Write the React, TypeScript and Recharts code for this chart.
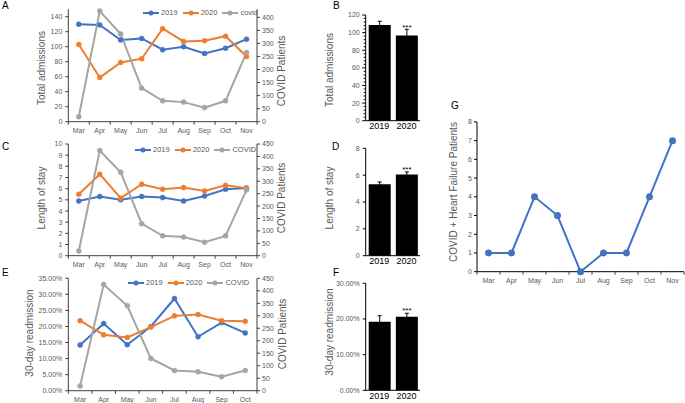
import React from "react";
import {
  ComposedChart, LineChart, Line, BarChart, Bar, XAxis, YAxis,
  Legend, ErrorBar, LabelList,
} from "recharts";

const FONT = '"Liberation Sans", Arial, sans-serif';
const BLUE = "#4472C4";
const ORANGE = "#ED7D31";
const GRAY = "#A5A5A5";
const TXT = "#595959";
const AXIS = "#3f3f3f";

// monthly series (panels A, C, E, G)
const MONTHS = ["Mar", "Apr", "May", "Jun", "Jul", "Aug", "Sep", "Oct", "Nov"];
const COVID_PATIENTS = [19, 424, 336, 129, 80, 75, 54, 80, 265];
const ADMISSIONS_2019 = [130, 129, 109, 111, 96, 100, 91, 98, 110];
const ADMISSIONS_2020 = [103, 59, 79, 84, 124, 107, 108, 114, 87];
const STAY_2019 = [4.9, 5.3, 5.0, 5.3, 5.2, 4.9, 5.35, 5.95, 6.05];
const STAY_2020 = [5.5, 7.3, 5.15, 6.4, 5.95, 6.1, 5.8, 6.3, 6.05];
const READMIT_MONTHS = ["Mar", "Apr", "May", "Jun", "Jul", "Aug", "Sep", "Oct"];
const READMIT_2019 = [14.2, 20.9, 14.3, 20.0, 28.7, 16.8, 21.2, 18.0];
const READMIT_2020 = [21.8, 17.4, 16.6, 19.8, 23.3, 23.7, 21.8, 21.6];
const READMIT_COVID = [19, 425, 340, 129, 81, 76, 56, 81];
const HF_PATIENTS = [1, 1, 4, 3, 0, 1, 1, 4, 7];

// yearly means (panels B, D, F)
const YEARS = ["2019", "2020"];
const SIGNIF = ["", "***"];
const ADMIT_MEAN = [108.7, 96.6];
const ADMIT_SEM = [4.2, 7.2];
const STAY_MEAN = [5.32, 6.04];
const STAY_SEM = [0.17, 0.2];
const READMIT_MEAN = [19.25, 20.65];
const READMIT_SEM = [1.65, 0.95];

const range = (a: number, b: number, s: number) => {
  const out: number[] = [];
  for (let v = a; v <= b + 1e-9; v += s) out.push(v);
  return out;
};

// category label + tick marks between categories (Excel style)
function CatTick(props: any) {
  const { x, y, payload, index, half, last, gap, size } = props;
  const axisY = y - gap;
  return (
    <g>
      <line x1={x - half} x2={x - half} y1={axisY} y2={axisY + 3} stroke={AXIS} />
      {index === last && <line x1={x + half} x2={x + half} y1={axisY} y2={axisY + 3} stroke={AXIS} />}
      <text x={x} y={y} dy="0.71em" textAnchor="middle" fontSize={size} fill={TXT} fontFamily={FONT}>
        {payload.value}
      </text>
    </g>
  );
}

function MinorTick(props: any) {
  const { x, y, payload } = props;
  const axisX = x + 6;
  const major = payload.value % 20 === 0;
  return (
    <g>
      <line x1={axisX} x2={axisX - (major ? 3.5 : 2)} y1={y} y2={y} stroke="#000" />
      {major && (
        <text x={x} y={y} dy="0.355em" textAnchor="end" fontSize={7} fill={TXT} fontFamily={FONT}>
          {payload.value}
        </text>
      )}
    </g>
  );
}

function LegendRow(props: any) {
  const items = props.payload || [];
  return (
    <div style={{ display: "flex", alignItems: "center", whiteSpace: "nowrap", fontFamily: FONT, fontSize: 7.5, color: TXT, lineHeight: "10px" }}>
      {items.map((it: any, i: number) => (
        <span key={i} style={{ display: "inline-flex", alignItems: "center", marginLeft: i ? 5 : 0 }}>
          <svg width={16} height={6} style={{ display: "block" }}>
            <line x1={0} x2={16} y1={3} y2={3} stroke={it.color} strokeWidth={2} />
            <circle cx={8} cy={3} r={2.5} fill={it.color} />
          </svg>
          <span style={{ marginLeft: 2 }}>{it.value}</span>
        </span>
      ))}
    </div>
  );
}

const PLOT_L = 68.3;
const PLOT_R = 257;
const LINE_W = 300;

type LineProps = {
  top: number; height: number; plotTop: number; plotBottom: number;
  months: string[]; s2019: number[]; s2020: number[]; covid: number[];
  covidName: string;
  leftDomain: [number, number]; leftTicks: number[]; leftFmt?: (v: number) => string;
  rightDomain: [number, number];
  legendLeft: number; legendTop: number;
};

function LinePanel(p: LineProps) {
  const data = p.months.map((m, i) => ({ month: m, y2019: p.s2019[i], y2020: p.s2020[i], covid: p.covid[i] }));
  const half = (PLOT_R - PLOT_L) / (2 * p.months.length);
  const tickStyle = { fontSize: 7, fill: TXT, fontFamily: FONT };
  const dot = (c: string) => ({ r: 2.5, fill: c, stroke: c, strokeWidth: 0.5 });
  return (
    <div style={{ position: "absolute", left: 0, top: p.top }}>
      <ComposedChart width={LINE_W} height={p.height} data={data}
        margin={{ top: p.plotTop - p.top, right: 0, left: 0, bottom: 0 }}>
        <XAxis dataKey="month" scale="band" height={p.top + p.height - p.plotBottom} interval={0}
          tickLine={false} tickSize={3} tickMargin={3} axisLine={{ stroke: AXIS }}
          tick={(t: any) => <CatTick {...t} half={half} last={p.months.length - 1} gap={6} size={7} />} />
        <YAxis yAxisId="left" width={PLOT_L} domain={p.leftDomain} ticks={p.leftTicks} interval={0}
          tickFormatter={p.leftFmt} tick={tickStyle} tickSize={3} tickMargin={3}
          axisLine={{ stroke: AXIS }} tickLine={{ stroke: AXIS }} />
        <YAxis yAxisId="right" orientation="right" width={LINE_W - PLOT_R} domain={p.rightDomain} interval={0}
          ticks={range(0, 450, 50).filter(v => v <= p.rightDomain[1])} tick={tickStyle} tickSize={3} tickMargin={2}
          axisLine={{ stroke: AXIS }} tickLine={{ stroke: AXIS }} />
        <Legend layout="horizontal" verticalAlign="middle" align="center" content={<LegendRow />}
          wrapperStyle={{ left: p.legendLeft, top: p.legendTop, width: "auto" }} />
        <Line yAxisId="left" dataKey="y2019" name="2019" stroke={BLUE} strokeWidth={2} dot={dot(BLUE)} isAnimationActive={false} />
        <Line yAxisId="left" dataKey="y2020" name="2020" stroke={ORANGE} strokeWidth={2} dot={dot(ORANGE)} isAnimationActive={false} />
        <Line yAxisId="right" dataKey="covid" name={p.covidName} stroke={GRAY} strokeWidth={2} dot={dot(GRAY)} isAnimationActive={false} />
      </ComposedChart>
    </div>
  );
}

type BarProps = {
  top: number; height: number; plotTop: number; plotBottom: number;
  means: number[]; sems: number[]; domain: [number, number]; ticks: number[];
  fmt?: (v: number) => string; minor?: boolean; sigOffset: number;
};

function BarPanel(p: BarProps) {
  const data = YEARS.map((y, i) => ({ year: y, mean: p.means[i], sem: p.sems[i], sig: SIGNIF[i] }));
  return (
    <div style={{ position: "absolute", left: 300, top: p.top }}>
      <BarChart width={130} height={p.height} data={data}
        margin={{ top: p.plotTop - p.top, right: 10, left: 0, bottom: 0 }}>
        <XAxis dataKey="year" height={p.top + p.height - p.plotBottom} tickLine={false} tickSize={0} tickMargin={2}
          axisLine={{ stroke: "#000" }} tick={{ fontSize: 9, fill: "#000", fontFamily: FONT }} />
        <YAxis width={65.7} domain={p.domain} ticks={p.ticks} tickFormatter={p.fmt} interval={0}
          tickSize={3} tickMargin={3} axisLine={{ stroke: "#000" }}
          tickLine={p.minor ? false : { stroke: "#000" }}
          tick={p.minor ? (t: any) => <MinorTick {...t} /> : { fontSize: 7, fill: TXT, fontFamily: FONT }} />
        <Bar dataKey="mean" fill="#000" barSize={22} isAnimationActive={false}>
          <ErrorBar dataKey="sem" direction="y" width={2} stroke="#000" strokeWidth={1} />
          <LabelList dataKey="sig" position="top" offset={p.sigOffset}
            style={{ fontSize: 8, fill: "#000", fontFamily: FONT }} />
        </Bar>
      </BarChart>
    </div>
  );
}

function HeartFailurePanel() {
  const data = MONTHS.map((m, i) => ({ month: m, n: HF_PATIENTS[i] }));
  const half = (684 - 477) / (2 * MONTHS.length);
  return (
    <div style={{ position: "absolute", left: 440, top: 100 }}>
      <LineChart width={245} height={190} data={data} margin={{ top: 21.9, right: 1, left: 0, bottom: 0 }}>
        <XAxis dataKey="month" scale="band" height={18.3} interval={0} tickLine={false} tickSize={3} tickMargin={3}
          axisLine={{ stroke: "#000" }}
          tick={(t: any) => <CatTick {...t} half={half} last={MONTHS.length - 1} gap={6} size={7} />} />
        <YAxis width={37} domain={[0, 8]} ticks={range(0, 8, 1)} interval={0} tickSize={3} tickMargin={2}
          axisLine={{ stroke: "#000" }} tickLine={{ stroke: "#000" }}
          tick={{ fontSize: 7, fill: TXT, fontFamily: FONT }} />
        <Line dataKey="n" stroke={BLUE} strokeWidth={2} dot={{ r: 2.5, fill: BLUE, stroke: BLUE }} isAnimationActive={false} />
      </LineChart>
    </div>
  );
}

function VLabel({ text, x, y, size = 10 }: { text: string; x: number; y: number; size?: number }) {
  return (
    <div style={{
      position: "absolute", left: x, top: y, transform: "translate(-50%, -50%) rotate(-90deg)",
      whiteSpace: "nowrap", fontSize: size, color: TXT, lineHeight: 1, fontFamily: FONT,
    }}>{text}</div>
  );
}

function Letter({ text, x, y }: { text: string; x: number; y: number }) {
  return (
    <div style={{ position: "absolute", left: x, top: y, fontSize: 10, lineHeight: 1, color: "#000", fontFamily: FONT }}>
      {text}
    </div>
  );
}

const pct = (v: number) => `${v.toFixed(2)}%`;

export default function App() {
  return (
    <div style={{ position: "absolute", left: 0, top: 0, width: 685, height: 403, background: "#fff", overflow: "hidden", fontFamily: FONT }}>
      <LinePanel top={0} height={140} plotTop={9.2} plotBottom={121.7}
        months={MONTHS} s2019={ADMISSIONS_2019} s2020={ADMISSIONS_2020} covid={COVID_PATIENTS} covidName="covid"
        leftDomain={[0, 150]} leftTicks={range(0, 140, 20)} rightDomain={[0, 431]}
        legendLeft={143} legendTop={8.3} />
      <LinePanel top={135} height={135} plotTop={144} plotBottom={255.7}
        months={MONTHS} s2019={STAY_2019} s2020={STAY_2020} covid={COVID_PATIENTS} covidName="COVID"
        leftDomain={[0, 10]} leftTicks={range(0, 10, 1)} rightDomain={[0, 450]}
        legendLeft={135} legendTop={10} />
      <LinePanel top={265} height={138} plotTop={278.3} plotBottom={390.7}
        months={READMIT_MONTHS} s2019={READMIT_2019} s2020={READMIT_2020} covid={READMIT_COVID} covidName="COVID"
        leftDomain={[0, 35]} leftTicks={range(0, 35, 5)} leftFmt={pct} rightDomain={[0, 450]}
        legendLeft={128} legendTop={13.3} />

      <BarPanel top={0} height={140} plotTop={15} plotBottom={120.7}
        means={ADMIT_MEAN} sems={ADMIT_SEM} domain={[0, 120]} ticks={range(0, 120, 4)} minor sigOffset={6} />
      <BarPanel top={135} height={135} plotTop={148.3} plotBottom={255.7}
        means={STAY_MEAN} sems={STAY_SEM} domain={[0, 8]} ticks={range(0, 8, 2)} sigOffset={2.5} />
      <BarPanel top={265} height={138} plotTop={283.3} plotBottom={390.3}
        means={READMIT_MEAN} sems={READMIT_SEM} domain={[0, 30]} ticks={range(0, 30, 10)} fmt={pct} sigOffset={3.5} />

      <HeartFailurePanel />

      <VLabel text="Total admissions" x={41.7} y={68} />
      <VLabel text="COVID Patients" x={281.7} y={71} />
      <VLabel text="Length of stay" x={41.7} y={197.5} />
      <VLabel text="COVID Patients" x={281.7} y={197.5} />
      <VLabel text="30-day readmission" x={30} y={332.5} />
      <VLabel text="COVID Patients" x={283.3} y={334} />
      <VLabel text="Total admissions" x={330} y={70} />
      <VLabel text="Length of stay" x={330} y={197.5} />
      <VLabel text="30-day readmission" x={330} y={332} />
      <VLabel text="COVID + Heart Failure Patients" x={454} y={192} />

      <Letter text="A" x={2} y={1} />
      <Letter text="B" x={333} y={1} />
      <Letter text="C" x={2} y={142} />
      <Letter text="D" x={332} y={142} />
      <Letter text="E" x={2} y={268} />
      <Letter text="F" x={333} y={268} />
      <Letter text="G" x={451} y={101} />
    </div>
  );
}
